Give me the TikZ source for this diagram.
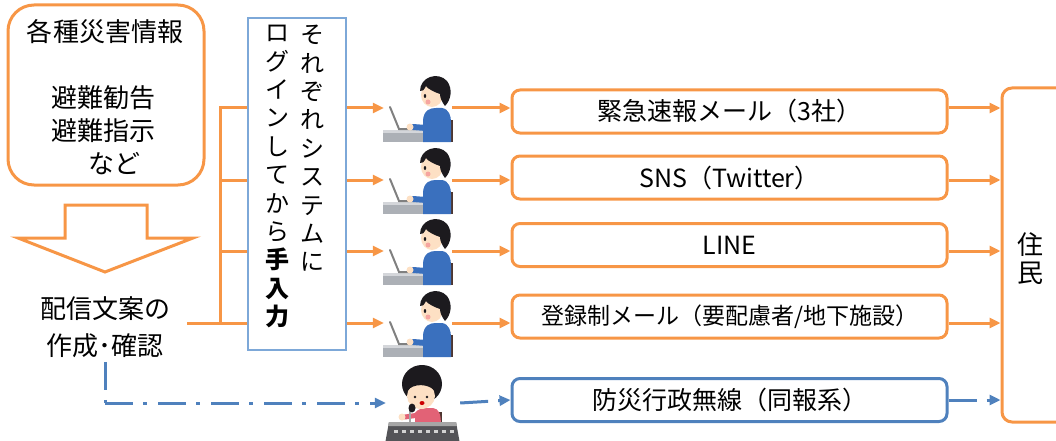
\documentclass[tikz,border=0pt]{standalone}
\usepackage{fontspec}
\setmainfont{Noto Sans CJK JP}
\usetikzlibrary{arrows.meta}

\definecolor{lineorange}{RGB}{247,150,70}
\definecolor{lineblue}{RGB}{79,129,189}
\definecolor{paleblue}{RGB}{125,168,216}
\definecolor{skin}{RGB}{253,224,196}
\definecolor{cheek}{RGB}{246,165,160}
\definecolor{hair}{RGB}{28,26,30}
\definecolor{shirt}{RGB}{58,112,190}
\definecolor{blouse}{RGB}{226,98,118}
\definecolor{chair}{RGB}{78,54,48}
\definecolor{desk}{RGB}{172,176,182}
\definecolor{desklight}{RGB}{212,214,218}
\definecolor{console}{RGB}{84,84,88}

\tikzset{
  mediabox/.style={draw=lineorange, line width=3pt, rounded corners=8pt,
    minimum width=435pt, minimum height=43pt, inner sep=0pt,
    font=\fontsize{25}{30}\selectfont},
  radiobox/.style={mediabox, draw=lineblue},
  feed/.style={draw=lineorange, line width=3pt},
  feedarrow/.style={feed, -{Triangle[length=11pt,width=10pt]}},
  radio/.style={draw=lineblue, line width=3pt, dash pattern=on 28pt off 10pt on 4pt off 11pt},
  radioarrow/.style={radio, -{Triangle[length=11pt,width=10pt]}},
  person/.style={minimum width=68pt, minimum height=68pt, inner sep=0pt},
  tate/.style={font=\fontsize{24}{28.4}\selectfont, align=center, anchor=north, inner sep=0pt},
  operator/.pic={
    \fill[desk] (-35,22) rectangle (7,34);
    \fill[desklight] (-35,22) rectangle (7,25);
    \draw[gray, line width=2pt, line cap=round] (-28,-1) -- (-19,21) -- (-2,21);
    \fill[chair] (28,12) rectangle (35,34);
    \fill[shirt] (5,34) -- (5,12) .. controls (6,2) and (12,0) .. (18,0) -- (24,0)
      .. controls (31,1) and (33,8) .. (33,14) -- (33,34) -- cycle;
    \draw[shirt, line width=6pt, line cap=round] (16,8) -- (8,20) -- (-5,19);
    \fill[skin] (-8,19) circle (3.5);
    \fill[skin] (14,-13) ellipse [x radius=11, y radius=12];
    \fill[hair] (2,-17) .. controls (2,-31) and (20,-37) .. (29,-27)
      .. controls (35,-19) and (33,-8) .. (27,-2)
      .. controls (24,-6) and (22,-10) .. (22,-14)
      .. controls (16,-16) and (10,-19) .. (8,-22)
      .. controls (6,-18) and (4,-16) .. (2,-17) -- cycle;
    \fill[hair] (7,-12) ellipse [x radius=1.2, y radius=2];
    \fill[cheek] (10,-6) circle (2.5);
  },
  announcer/.pic={
    \fill[hair] (-1,-19) ellipse [x radius=20, y radius=19];
    \fill[chair] (15,9) rectangle (19,22);
    \fill[blouse] (-8,24) -- (-8,10) .. controls (-6,6) and (0,5) .. (6,5) -- (10,5)
      .. controls (16,6) and (18,10) .. (18,24) -- cycle;
    \fill[skin] (-2,-7) ellipse [x radius=14, y radius=13];
    \fill[hair] (-16,-12) .. controls (-10,-20) and (6,-20) .. (13,-11)
      -- (14,-26) .. controls (6,-36) and (-10,-36) .. (-17,-26) -- cycle;
    \fill[hair] (-8,-6) circle (1.3);
    \fill[hair] (4,-6) circle (1.3);
    \fill[red!80!black] (-1,0) ellipse [x radius=2.5, y radius=2];
    \draw[blouse, line width=5pt, line cap=round] (-4,12) -- (-18,14);
    \fill[skin] (-21,14) circle (3.5);
    \draw[gray!70, line width=2pt] (-13,4) -- (-13,40);
    \fill[hair] (-11,5) ellipse [x radius=3.5, y radius=4.5];
    \fill[console] (-34,19) -- (33,19) -- (37,41) -- (-38,41) -- cycle;
    \fill[gray!70] (-34,19) -- (33,19) -- (34,23) -- (-35,23) -- cycle;
    \foreach \k in {-29,-21,...,27}
      \fill[gray!35] (\k,27) rectangle ++(4,3);
  },
}

\begin{document}
\begin{tikzpicture}[x=1pt, y=-1pt]
\useasboundingbox (0,0) rectangle (1056,441);

% input side
\node[draw=lineorange, line width=3pt, rounded corners=26pt, minimum width=196pt, minimum height=180pt] (src) at (106,95) {};
\node[font=\fontsize{26}{30}\selectfont] (srctitle) at (105,32) {各種災害情報};
\node[font=\fontsize{26}{33}\selectfont, align=center] (srcbody) at (103,130) {避難勧告\\避難指示\\\hspace*{22pt}など};
\draw[lineorange, line width=3pt] (65,205) -- (147,205) -- (147,238) -- (193,238) -- (105,272) -- (18,238) -- (65,238) -- cycle;
\node[font=\fontsize{26}{37}\selectfont, align=center, inner xsep=17pt, inner ysep=4pt] (draft) at (105,327) {配信文案の\\作成･確認};

% manual entry
\node[draw=paleblue, line width=1.5pt, minimum width=98pt, minimum height=332pt] (vbox) at (297,184) {};
\node[tate] (colA) at (312,25) {そ\\れ\\ぞ\\れ\\シ\\ス\\テ\\ム\\に};
\node[tate] (colB) at (277,25) {ロ\\グ\\イ\\ン\\し\\て\\か\\ら\\\textbf{手}\\\textbf{入}\\\textbf{力}};

\foreach \i/\y in {1/108,2/180,3/251,4/323} {
  \node[person] (p\i) at (418,\y) {};
  \pic at (p\i) {operator};
}
\node[person, minimum width=74pt] (anc) at (423,403) {};
\pic at (anc) {announcer};

% channels
\node[mediabox] (m1) at (729.5,111.5) {緊急速報メール（3社）};
\node[mediabox] (m2) at (729.5,177.5) {SNS（Twitter）};
\node[mediabox] (m3) at (729.5,245) {LINE};
\node[mediabox, font=\fontsize{23}{28}\selectfont] (m4) at (729.5,316.5) {登録制メール（要配慮者/地下施設）};
\node[radiobox] (m5) at (729.5,400) {防災行政無線（同報系）};

\node[draw=lineorange, line width=3pt, rounded corners=10pt, minimum width=73pt, minimum height=334pt] (res) at (1038.5,255) {};
\node[font=\fontsize{26}{28}\selectfont, align=center] (reslbl) at (1030,259) {住\\民};

% connectors
\draw[feed] (vbox.west |- p1) -| (220,323);
\foreach \i in {2,3}
  \draw[feed] (220,0 |- p\i) -- (vbox.west |- p\i);
\draw[feed] (draft.east |- p4) -- (vbox.west |- p4);
\foreach \i in {1,...,4} {
  \draw[feedarrow] (vbox.east |- p\i) -- (p\i.west);
  \draw[feedarrow] (p\i.east) -- (m\i.west |- p\i);
  \draw[feedarrow] (m\i.east |- p\i) -- (res.west |- p\i);
}
\coordinate (turn) at (draft.south |- anc.west);
\draw[radio] (draft.south) -- (turn);
\draw[radioarrow] (turn) -- (anc.west);
\draw[radioarrow] (anc.east) -- (m5.west);
\draw[radioarrow] (m5.east) -- (res.west |- m5.east);
\end{tikzpicture}
\end{document}
